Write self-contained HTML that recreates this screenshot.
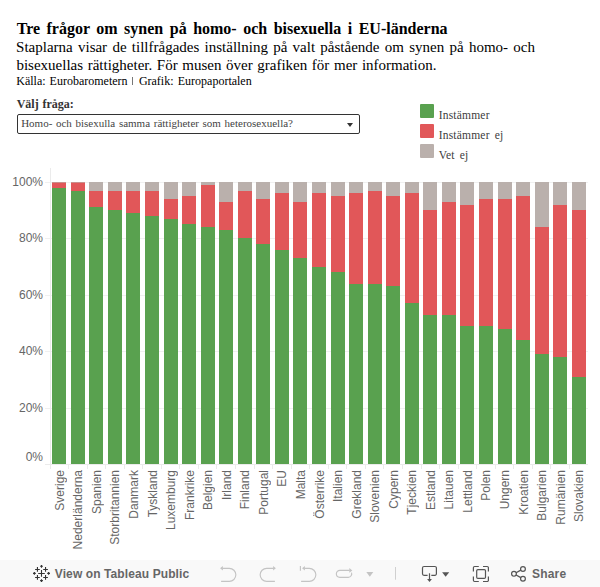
<!DOCTYPE html>
<html><head><meta charset="utf-8">
<style>
html,body{margin:0;padding:0;}
body{width:600px;height:587px;overflow:hidden;background:#fff;position:relative;}
.w{position:absolute;white-space:nowrap;font-family:"Liberation Serif",serif;color:#000;}
.title{font-size:16px;line-height:16px;font-weight:bold;}
.sub{font-size:15px;line-height:15px;}
.src{font-size:12px;line-height:12px;}
.valj{font-size:12px;line-height:12px;font-weight:bold;color:#333;}
.dd{font-size:11px;line-height:11px;color:#444;}
.lgt{font-size:11.5px;line-height:11.5px;color:#3c3c3c;letter-spacing:0.2px;}
#dd{position:absolute;left:17px;top:114px;width:341px;height:18px;border:1px solid #333;border-radius:2px;box-sizing:content-box;}
#ddarr{position:absolute;left:347px;top:122.5px;width:0;height:0;border-left:3.5px solid transparent;border-right:3.5px solid transparent;border-top:4px solid #333;}
.lg{position:absolute;left:420px;width:14px;height:14px;border-radius:1px;}
svg{position:absolute;left:0;top:0;}
.yl{position:absolute;right:557px;font-family:"Liberation Sans",sans-serif;font-size:12px;line-height:16px;color:#666;white-space:nowrap;}
.xl{position:absolute;top:469.5px;width:14px;line-height:14px;writing-mode:vertical-rl;transform:rotate(180deg);font-family:"Liberation Sans",sans-serif;font-size:12px;color:#666;white-space:nowrap;}
#footer{position:absolute;left:0;top:560px;width:600px;height:27px;background:#f9f9f9;}
.ft{position:absolute;font-family:"Liberation Sans",sans-serif;font-weight:bold;font-size:12px;line-height:12px;color:#666;white-space:nowrap;}
</style></head><body>
<span class="w title" style="left:16.65px;top:21.2px;word-spacing:2.500px">Tre frågor om synen på homo- och bisexuella i EU-länderna</span><span class="w sub" style="left:16.05px;top:39.9px;word-spacing:1.520px">Staplarna visar de tillfrågades inställning på valt påstående om synen på homo- och</span><span class="w sub" style="left:16.45px;top:58.0px;word-spacing:0.850px">bisexuellas rättigheter. För musen över grafiken för mer information.</span><span class="w src" style="left:16.30px;top:74.7px;word-spacing:1.000px">Källa: Eurobarometern</span><span class="w valj" style="left:16.66px;top:98.0px;word-spacing:0.800px">Välj fråga:</span><span class="w dd" style="left:21.15px;top:118.4px;word-spacing:0.917px">Homo- och bisexulla samma rättigheter som heterosexuella?</span><span class="w lgt" style="left:438.70px;top:110.4px;word-spacing:0.000px">Instämmer</span><span class="w lgt" style="left:438.70px;top:130.4px;word-spacing:2.000px">Instämmer ej</span><span class="w lgt" style="left:438.70px;top:150.4px;word-spacing:2.000px">Vet ej</span><span class="w src" style="left:138.88px;top:74.7px;word-spacing:1.200px">Grafik: Europaportalen</span>
<div id="dd"></div>
<div style="position:absolute;left:132px;top:77px;width:1.4px;height:8px;background:#777"></div>
<div id="ddarr"></div>
<div class="lg" style="top:104px;background:#59a14f"></div>
<div class="lg" style="top:124px;background:#e15759"></div>
<div class="lg" style="top:144px;background:#bab0ac"></div>
<svg width="600" height="560" viewBox="0 0 600 560" shape-rendering="crispEdges">
<rect x="45" y="408" width="543" height="1" fill="#f0f0f0"/>
<rect x="45" y="351" width="543" height="1" fill="#f0f0f0"/>
<rect x="45" y="295" width="543" height="1" fill="#f0f0f0"/>
<rect x="45" y="238" width="543" height="1" fill="#f0f0f0"/>
<rect x="45" y="182" width="543" height="1" fill="#f0f0f0"/>
<rect x="50" y="168" width="1" height="297" fill="#ebebeb"/>
<rect x="52" y="182" width="14" height="1" fill="#c9908d"/>
<rect x="52" y="183" width="14" height="5" fill="#e15759"/>
<rect x="52" y="188" width="14" height="276" fill="#59a14f"/>
<rect x="71" y="182" width="14" height="1" fill="#c9908d"/>
<rect x="71" y="183" width="14" height="8" fill="#e15759"/>
<rect x="71" y="191" width="14" height="273" fill="#59a14f"/>
<rect x="89" y="182" width="14" height="9" fill="#bab0ac"/>
<rect x="89" y="191" width="14" height="16" fill="#e15759"/>
<rect x="89" y="207" width="14" height="257" fill="#59a14f"/>
<rect x="108" y="182" width="14" height="9" fill="#bab0ac"/>
<rect x="108" y="191" width="14" height="19" fill="#e15759"/>
<rect x="108" y="210" width="14" height="254" fill="#59a14f"/>
<rect x="126" y="182" width="14" height="9" fill="#bab0ac"/>
<rect x="126" y="191" width="14" height="22" fill="#e15759"/>
<rect x="126" y="213" width="14" height="251" fill="#59a14f"/>
<rect x="145" y="182" width="14" height="9" fill="#bab0ac"/>
<rect x="145" y="191" width="14" height="25" fill="#e15759"/>
<rect x="145" y="216" width="14" height="248" fill="#59a14f"/>
<rect x="164" y="182" width="14" height="17" fill="#bab0ac"/>
<rect x="164" y="199" width="14" height="20" fill="#e15759"/>
<rect x="164" y="219" width="14" height="245" fill="#59a14f"/>
<rect x="182" y="182" width="14" height="14" fill="#bab0ac"/>
<rect x="182" y="196" width="14" height="28" fill="#e15759"/>
<rect x="182" y="224" width="14" height="240" fill="#59a14f"/>
<rect x="201" y="182" width="14" height="3" fill="#bab0ac"/>
<rect x="201" y="185" width="14" height="42" fill="#e15759"/>
<rect x="201" y="227" width="14" height="237" fill="#59a14f"/>
<rect x="219" y="182" width="14" height="20" fill="#bab0ac"/>
<rect x="219" y="202" width="14" height="28" fill="#e15759"/>
<rect x="219" y="230" width="14" height="234" fill="#59a14f"/>
<rect x="238" y="182" width="14" height="9" fill="#bab0ac"/>
<rect x="238" y="191" width="14" height="47" fill="#e15759"/>
<rect x="238" y="238" width="14" height="226" fill="#59a14f"/>
<rect x="256" y="182" width="14" height="17" fill="#bab0ac"/>
<rect x="256" y="199" width="14" height="45" fill="#e15759"/>
<rect x="256" y="244" width="14" height="220" fill="#59a14f"/>
<rect x="275" y="182" width="14" height="11" fill="#bab0ac"/>
<rect x="275" y="193" width="14" height="57" fill="#e15759"/>
<rect x="275" y="250" width="14" height="214" fill="#59a14f"/>
<rect x="293" y="182" width="14" height="20" fill="#bab0ac"/>
<rect x="293" y="202" width="14" height="56" fill="#e15759"/>
<rect x="293" y="258" width="14" height="206" fill="#59a14f"/>
<rect x="312" y="182" width="14" height="11" fill="#bab0ac"/>
<rect x="312" y="193" width="14" height="74" fill="#e15759"/>
<rect x="312" y="267" width="14" height="197" fill="#59a14f"/>
<rect x="331" y="182" width="14" height="14" fill="#bab0ac"/>
<rect x="331" y="196" width="14" height="76" fill="#e15759"/>
<rect x="331" y="272" width="14" height="192" fill="#59a14f"/>
<rect x="349" y="182" width="14" height="11" fill="#bab0ac"/>
<rect x="349" y="193" width="14" height="91" fill="#e15759"/>
<rect x="349" y="284" width="14" height="180" fill="#59a14f"/>
<rect x="368" y="182" width="14" height="9" fill="#bab0ac"/>
<rect x="368" y="191" width="14" height="93" fill="#e15759"/>
<rect x="368" y="284" width="14" height="180" fill="#59a14f"/>
<rect x="386" y="182" width="14" height="14" fill="#bab0ac"/>
<rect x="386" y="196" width="14" height="90" fill="#e15759"/>
<rect x="386" y="286" width="14" height="178" fill="#59a14f"/>
<rect x="405" y="182" width="14" height="11" fill="#bab0ac"/>
<rect x="405" y="193" width="14" height="110" fill="#e15759"/>
<rect x="405" y="303" width="14" height="161" fill="#59a14f"/>
<rect x="423" y="182" width="14" height="28" fill="#bab0ac"/>
<rect x="423" y="210" width="14" height="105" fill="#e15759"/>
<rect x="423" y="315" width="14" height="149" fill="#59a14f"/>
<rect x="442" y="182" width="14" height="20" fill="#bab0ac"/>
<rect x="442" y="202" width="14" height="113" fill="#e15759"/>
<rect x="442" y="315" width="14" height="149" fill="#59a14f"/>
<rect x="460" y="182" width="14" height="23" fill="#bab0ac"/>
<rect x="460" y="205" width="14" height="121" fill="#e15759"/>
<rect x="460" y="326" width="14" height="138" fill="#59a14f"/>
<rect x="479" y="182" width="14" height="17" fill="#bab0ac"/>
<rect x="479" y="199" width="14" height="127" fill="#e15759"/>
<rect x="479" y="326" width="14" height="138" fill="#59a14f"/>
<rect x="498" y="182" width="14" height="17" fill="#bab0ac"/>
<rect x="498" y="199" width="14" height="130" fill="#e15759"/>
<rect x="498" y="329" width="14" height="135" fill="#59a14f"/>
<rect x="516" y="182" width="14" height="14" fill="#bab0ac"/>
<rect x="516" y="196" width="14" height="144" fill="#e15759"/>
<rect x="516" y="340" width="14" height="124" fill="#59a14f"/>
<rect x="535" y="182" width="14" height="45" fill="#bab0ac"/>
<rect x="535" y="227" width="14" height="127" fill="#e15759"/>
<rect x="535" y="354" width="14" height="110" fill="#59a14f"/>
<rect x="553" y="182" width="14" height="23" fill="#bab0ac"/>
<rect x="553" y="205" width="14" height="152" fill="#e15759"/>
<rect x="553" y="357" width="14" height="107" fill="#59a14f"/>
<rect x="572" y="182" width="14" height="28" fill="#bab0ac"/>
<rect x="572" y="210" width="14" height="167" fill="#e15759"/>
<rect x="572" y="377" width="14" height="87" fill="#59a14f"/>
<rect x="45" y="464" width="543" height="1" fill="#ebebeb"/>
<rect x="50" y="464" width="1" height="5" fill="#ebebeb"/>
<rect x="68" y="464" width="1" height="5" fill="#ebebeb"/>
<rect x="87" y="464" width="1" height="5" fill="#ebebeb"/>
<rect x="105" y="464" width="1" height="5" fill="#ebebeb"/>
<rect x="124" y="464" width="1" height="5" fill="#ebebeb"/>
<rect x="142" y="464" width="1" height="5" fill="#ebebeb"/>
<rect x="161" y="464" width="1" height="5" fill="#ebebeb"/>
<rect x="179" y="464" width="1" height="5" fill="#ebebeb"/>
<rect x="198" y="464" width="1" height="5" fill="#ebebeb"/>
<rect x="216" y="464" width="1" height="5" fill="#ebebeb"/>
<rect x="235" y="464" width="1" height="5" fill="#ebebeb"/>
<rect x="254" y="464" width="1" height="5" fill="#ebebeb"/>
<rect x="272" y="464" width="1" height="5" fill="#ebebeb"/>
<rect x="291" y="464" width="1" height="5" fill="#ebebeb"/>
<rect x="309" y="464" width="1" height="5" fill="#ebebeb"/>
<rect x="328" y="464" width="1" height="5" fill="#ebebeb"/>
<rect x="346" y="464" width="1" height="5" fill="#ebebeb"/>
<rect x="365" y="464" width="1" height="5" fill="#ebebeb"/>
<rect x="383" y="464" width="1" height="5" fill="#ebebeb"/>
<rect x="402" y="464" width="1" height="5" fill="#ebebeb"/>
<rect x="421" y="464" width="1" height="5" fill="#ebebeb"/>
<rect x="439" y="464" width="1" height="5" fill="#ebebeb"/>
<rect x="458" y="464" width="1" height="5" fill="#ebebeb"/>
<rect x="476" y="464" width="1" height="5" fill="#ebebeb"/>
<rect x="495" y="464" width="1" height="5" fill="#ebebeb"/>
<rect x="513" y="464" width="1" height="5" fill="#ebebeb"/>
<rect x="532" y="464" width="1" height="5" fill="#ebebeb"/>
<rect x="550" y="464" width="1" height="5" fill="#ebebeb"/>
<rect x="569" y="464" width="1" height="5" fill="#ebebeb"/>
</svg>
<div class="yl" style="top:448.50px">0%</div><div class="yl" style="top:399.50px">20%</div><div class="yl" style="top:342.50px">40%</div><div class="yl" style="top:286.50px">60%</div><div class="yl" style="top:229.50px">80%</div><div class="yl" style="top:173.50px">100%</div>
<div id="xls">
<div class="xl" style="left:52.78px">Sverige</div><div class="xl" style="left:71.33px">Nederländerna</div><div class="xl" style="left:89.88px">Spanien</div><div class="xl" style="left:108.43px">Storbritannien</div><div class="xl" style="left:126.98px">Danmark</div><div class="xl" style="left:145.53px">Tyskland</div><div class="xl" style="left:164.09px">Luxemburg</div><div class="xl" style="left:182.64px">Frankrike</div><div class="xl" style="left:201.19px">Belgien</div><div class="xl" style="left:219.74px">Irland</div><div class="xl" style="left:238.29px">Finland</div><div class="xl" style="left:256.84px">Portugal</div><div class="xl" style="left:275.40px">EU</div><div class="xl" style="left:293.95px">Malta</div><div class="xl" style="left:312.50px">Österrike</div><div class="xl" style="left:331.05px">Italien</div><div class="xl" style="left:349.60px">Grekland</div><div class="xl" style="left:368.16px">Slovenien</div><div class="xl" style="left:386.71px">Cypern</div><div class="xl" style="left:405.26px">Tjeckien</div><div class="xl" style="left:423.81px">Estland</div><div class="xl" style="left:442.36px">Litauen</div><div class="xl" style="left:460.91px">Lettland</div><div class="xl" style="left:479.47px">Polen</div><div class="xl" style="left:498.02px">Ungern</div><div class="xl" style="left:516.57px">Kroatien</div><div class="xl" style="left:535.12px">Bulgarien</div><div class="xl" style="left:553.67px">Rumänien</div><div class="xl" style="left:572.22px">Slovakien</div>
</div>
<div id="footer"></div>
<svg id="fsvg" width="600" height="27" viewBox="0 560 600 27" style="position:absolute;left:0;top:560px">
<g stroke="#333" stroke-width="1.1" fill="none" stroke-linecap="butt">
<path d="M41.5 570.1V576.8M38.2 573.45H44.8"/>
<path d="M37.44 567.1V571.8M35.1 569.44H39.8M45.54 567.1V571.8M43.2 569.44H47.9M37.44 575.1V579.8M35.1 577.45H39.8M45.54 575.1V579.8M43.2 577.45H47.9"/>
<path d="M41.5 564.9V567.7M40.1 566.3H42.9M41.5 579.2V582M40.1 580.6H42.9M34.4 572V574.8M33 573.4H35.8M48.6 572V574.8M47.2 573.4H50"/>
</g>
<g stroke="#c4c4c4" stroke-width="1.15" fill="none">
<path d="M222.5 568.3H229.3A6.55 6.55 0 0 1 229.3 581.4H221.1"/>
<path d="M273.5 568.3H266.7A6.55 6.55 0 0 0 266.7 581.4H274.9"/>
<path d="M300.4 566.1V570.8M304.5 568.3H309.3A6.55 6.55 0 0 1 309.3 581.4H301.1"/>
<path d="M349.6 570.4H339.8A3.45 3.45 0 0 0 339.8 577.3H348.3A3.45 3.45 0 0 0 351.5 572.6"/>
</g>
<g fill="#c4c4c4">
<path d="M220.1 568.3L222.9 566.0V570.6Z"/>
<path d="M275.9 568.3L273.1 566.0V570.6Z"/>
<path d="M302.1 568.3L304.9 566.0V570.6Z"/>
<path d="M352.3 570.4L349.3 568.0V572.8Z"/>
<path d="M366.3 572.1H373.3L369.8 576.7Z"/>
</g>
<rect x="395" y="567" width="1" height="12.7" fill="#d0d0d0"/>
<g stroke="#555" stroke-width="1.2" fill="none">
<path d="M427.6 575.3H424A1.5 1.5 0 0 1 422.5 573.8V568A1.5 1.5 0 0 1 424 566.5H434.9A1.5 1.5 0 0 1 436.4 568V573.8A1.5 1.5 0 0 1 434.9 575.3H431.3"/>
<path d="M429.5 573.3V579.6"/>
<path d="M478.8 566.5H474.6A1.2 1.2 0 0 0 473.4 567.7V571.5M483 566.5H487.2A1.2 1.2 0 0 1 488.4 567.7V571.5M473.4 576.5V580.3A1.2 1.2 0 0 0 474.6 581.5H478.8M488.4 576.5V580.3A1.2 1.2 0 0 1 487.2 581.5H483"/>
<rect x="476.7" y="569.6" width="8.8" height="8.8" rx="1.2"/>
<circle cx="513.97" cy="573.86" r="2.4"/>
<circle cx="522.97" cy="568.95" r="2.4"/>
<circle cx="522.97" cy="578.76" r="2.4"/>
<path d="M516.1 572.7L520.8 570.1M516.1 575L520.8 577.6"/>
</g>
<g fill="#555">
<path d="M427.1 579.0H431.9L429.5 582.0Z"/>
<path d="M442.1 572.2H449.2L445.65 576.8Z"/>
</g>
</svg>
<div class="ft" style="left:54.8px;top:567.8px;letter-spacing:0.1px">View on Tableau Public</div>
<div class="ft" style="left:532px;top:567.8px;letter-spacing:0.2px">Share</div>
</body></html>
